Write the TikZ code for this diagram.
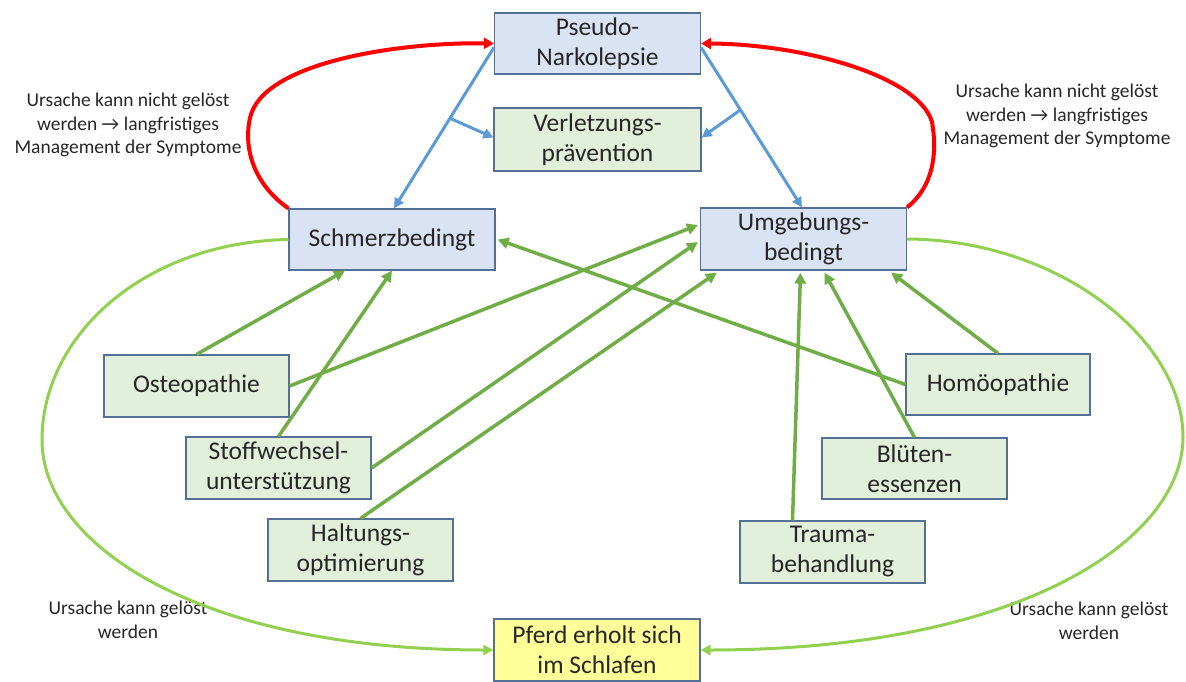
\documentclass[tikz,border=0pt]{standalone}
\usepackage{fontspec}
\setmainfont{Carlito}
\usetikzlibrary{arrows.meta,calc}
\definecolor{boxblue}{RGB}{218,227,243}
\definecolor{boxgreen}{RGB}{226,239,218}
\definecolor{boxyellow}{RGB}{255,255,153}
\definecolor{boxline}{RGB}{84,112,150}
\definecolor{arrgreen}{RGB}{112,173,71}
\definecolor{curvegreen}{RGB}{146,208,80}
\definecolor{arrblue}{RGB}{91,155,213}
\definecolor{arrred}{RGB}{255,0,0}
\tikzset{
  basebox/.style={draw=boxline, line width=1.2pt, inner sep=0pt, align=center,
    font=\fontsize{25.5}{30}\selectfont, text=black!85},
  bluebox/.style={basebox, fill=boxblue, minimum width=206pt, minimum height=61pt},
  greenbox/.style={basebox, fill=boxgreen, minimum width=185pt, minimum height=62pt},
  yellowbox/.style={basebox, fill=boxyellow, minimum width=206pt, minimum height=62pt},
  note/.style={align=center, font=\fontsize{19.5}{23.5}\selectfont, text=black!85},
  garrow/.style={draw=arrgreen, line width=3.5pt, -{Triangle[length=11pt,width=11pt]}},
  gcurve/.style={draw=curvegreen, line width=3pt, -{Triangle[length=10pt,width=10pt]}},
  barrow/.style={draw=arrblue, line width=3pt, -{Triangle[length=10pt,width=10pt]}},
  rarrow/.style={draw=arrred, line width=4pt, -{Triangle[length=10pt,width=11pt]}}
}
\begin{document}
\begin{tikzpicture}[x=1pt,y=-1pt]
\useasboundingbox (0,0) rectangle (1186,682);
% boxes
\node[bluebox] (pseudo) at (597.5,43.5) {Pseudo-\\Narkolepsie};
\node[greenbox, minimum width=207pt, minimum height=63pt] (verl) at (597.5,139.5) {Verletzungs-\\prävention};
\node[bluebox] (schmerz) at (392,239.5) {Schmerzbedingt};
\node[bluebox, minimum height=62pt] (umgeb) at (803.5,239) {Umgebungs-\\bedingt};
\node[greenbox] (osteo) at (196.5,386) {Osteopathie};
\node[greenbox] (stoff) at (278.5,468) {Stoffwechsel-\\unterstützung};
\node[greenbox] (halt) at (360.5,550) {Haltungs-\\optimierung};
\node[greenbox, minimum width=184pt, minimum height=61pt] (homo) at (998,384.5) {Homöopathie};
\node[greenbox, minimum height=61pt] (blueten) at (914.5,468.5) {Blüten-\\essenzen};
\node[greenbox] (trauma) at (832.5,552) {Trauma-\\behandlung};
\node[yellowbox] (pferd) at (597,650) {Pferd erholt sich\\im Schlafen};
% notes
\node[note] (n1) at (128,125) {Ursache kann nicht gelöst\\werden → langfristiges\\Management der Symptome};
\node[note] (n2) at (1057,116) {Ursache kann nicht gelöst\\werden → langfristiges\\Management der Symptome};
\node[note] (n3) at (128,620) {Ursache kann gelöst\\werden};
\node[note] (n4) at (1089,621) {Ursache kann gelöst\\werden};
% blue arrows
\coordinate (pl) at ($(pseudo.west)+(0,4)$);
\coordinate (pr) at ($(pseudo.east)+(0,4)$);
\draw[barrow] (pl) -- ($(schmerz.north)+(2,0)$) coordinate[pos=0.44] (bl);
\draw[barrow] (pr) -- ($(umgeb.north)+(-1.5,0)$) coordinate[pos=0.39] (br);
\draw[barrow] (bl) -- ($(verl.west)+(0,-2)$);
\draw[barrow] (br) -- ($(verl.east)+(0,-2)$);
% red curves
\draw[rarrow] (schmerz.north west) .. controls (255,185) and (243,150) .. (250,118)
   .. controls (262,62) and (400,42) .. (pseudo.west);
\draw[rarrow] (umgeb.north east) .. controls (935,185) and (937,150) .. (932,122)
   .. controls (918,75) and (800,44) .. (pseudo.east);
% green curves
\draw[gcurve] (schmerz.west) .. controls (145,242) and (42,335) .. (42,440)
   .. controls (42,545) and (200,650) .. (pferd.west);
\draw[gcurve] (umgeb.east) .. controls (1060,240) and (1183,340) .. (1183,437)
   .. controls (1183,540) and (1020,650) .. (pferd.east);
% green arrows
\draw[garrow] (osteo.north) -- ($(schmerz.south)+(-47,0)$);
\draw[garrow] (osteo.east) -- ($(umgeb.west)+(-2,-14)$);
\draw[garrow] (stoff.north) -- ($(schmerz.south)+(0,0)$);
\draw[garrow] (stoff.east) -- ($(umgeb.west)+(-2,3)$);
\draw[garrow] (halt.north) -- ($(umgeb.south west)+(17,2)$);
\draw[garrow] (homo.west) -- ($(schmerz.east)+(2,0)$);
\draw[garrow] (homo.north) -- ($(umgeb.south east)+(-16,2)$);
\draw[garrow] (blueten.north) -- ($(umgeb.south)+(21,2)$);
\draw[garrow] ($(trauma.north)+(-40,0)$) -- ($(umgeb.south)+(-3,2)$);
\end{tikzpicture}
\end{document}
